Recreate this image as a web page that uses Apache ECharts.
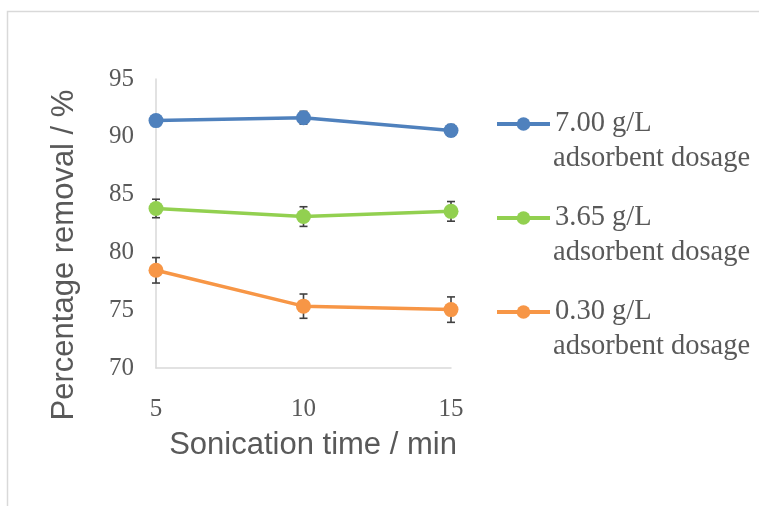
<!DOCTYPE html>
<html>
<head>
<meta charset="utf-8">
<script src="https://cdn.jsdelivr.net/npm/echarts@6/dist/echarts.min.js"></script>
<style>
  html, body { margin: 0; padding: 0; background: #fff; }
  #chart { width: 759px; height: 506px; }
</style>
</head>
<body>
<div id="chart"></div>
<script>
// Sonication time (min) on the x axis
const times = [5, 10, 15];

// Series labels (dosage) and the mean removal percentages with their error (±)
const seriesNames = ['7.00 g/L', '3.65 g/L', '0.30 g/L'];
const legendSubtitle = 'adsorbent dosage';
const removal700 = [91.4, 91.65, 90.55];
const error700 = [0.45, 0.55, 0.5];
const removal365 = [83.8, 83.1, 83.55];
const error365 = [0.8, 0.85, 0.85];
const removal030 = [78.45, 75.35, 75.05];
const error030 = [1.1, 1.05, 1.1];

const xTitle = 'Sonication time / min';
const yTitle = 'Percentage removal / %';

const colors = ['#4F81BD', '#92D050', '#F79646'];
const means = [removal700, removal365, removal030];
const errors = [error700, error365, error030];

const serifFont = '"Liberation Serif", "DejaVu Serif", serif';
const sansFont = '"Liberation Sans", Arial, sans-serif';
const textGray = '#595959';

// Vertical error bar with small caps, drawn in pixel space from data values
function renderErrorBar(params, api) {
  const x = api.value(0);
  const lo = api.coord([x, api.value(1)]);
  const hi = api.coord([x, api.value(2)]);
  const half = 4;
  const style = { stroke: '#404040', lineWidth: 1.6, fill: null };
  return {
    type: 'group',
    children: [
      { type: 'line', shape: { x1: lo[0], y1: lo[1], x2: hi[0], y2: hi[1] }, style },
      { type: 'line', shape: { x1: lo[0] - half, y1: lo[1], x2: lo[0] + half, y2: lo[1] }, style },
      { type: 'line', shape: { x1: hi[0] - half, y1: hi[1], x2: hi[0] + half, y2: hi[1] }, style }
    ]
  };
}

const series = [];
seriesNames.forEach((name, i) => {
  series.push({
    name: name + ' error',
    type: 'custom',
    renderItem: renderErrorBar,
    data: times.map((t, j) => [t, means[i][j] - errors[i][j], means[i][j] + errors[i][j]]),
    itemStyle: { color: '#404040' },
    z: 1,
    silent: true
  });
});
seriesNames.forEach((name, i) => {
  series.push({
    name: name,
    type: 'line',
    data: times.map((t, j) => [t, means[i][j]]),
    symbol: 'circle',
    symbolSize: 15,
    lineStyle: { color: colors[i], width: 3.5 },
    itemStyle: { color: colors[i] },
    z: 3
  });
});

// Legend layout: one entry per dosage, second caption line placed under each entry
const legendTop = 107;
const legendLineH = 34;
const legendStep = 94;
const legendTextX = 553;

const graphics = [
  {
    type: 'rect',
    shape: { x: 7.5, y: 11.5, width: 900, height: 700 },
    style: { fill: null, stroke: '#d9d9d9', lineWidth: 1.5 },
    silent: true
  },
  {
    type: 'text',
    x: 313, y: 445,
    style: { text: xTitle, font: '31px ' + sansFont, fill: textGray, align: 'center', verticalAlign: 'middle' },
    silent: true
  },
  {
    type: 'text',
    x: 64, y: 255,
    rotation: Math.PI / 2,
    style: { text: yTitle, font: '31px ' + sansFont, fill: textGray, align: 'center', verticalAlign: 'middle' },
    silent: true
  }
];
seriesNames.forEach((name, i) => {
  graphics.push({
    type: 'text',
    x: legendTextX,
    y: legendTop + legendLineH / 2 + i * legendStep + 35,
    style: { text: legendSubtitle, font: '28.5px ' + serifFont, fill: textGray, align: 'left', verticalAlign: 'middle' },
    silent: true
  });
});

const chart = echarts.init(document.getElementById('chart'));
chart.setOption({
  animation: false,
  backgroundColor: '#ffffff',
  graphic: graphics,
  grid: { left: 156, right: 308, top: 79, bottom: 138 },
  legend: {
    orient: 'vertical',
    left: 495,
    top: legendTop,
    padding: 0,
    itemWidth: 53,
    itemHeight: 17,
    itemGap: legendStep - legendLineH,
    data: seriesNames,
    lineStyle: { width: 4 },
    textStyle: {
      fontFamily: serifFont,
      fontSize: 28.5,
      lineHeight: legendLineH,
      color: textGray
    }
  },
  xAxis: {
    type: 'value',
    min: 5,
    max: 15,
    interval: 5,
    axisLine: { show: true, lineStyle: { color: '#d9d9d9', width: 1.5 } },
    axisTick: { show: false },
    splitLine: { show: false },
    axisLabel: { fontFamily: serifFont, fontSize: 25, color: textGray, margin: 29 }
  },
  yAxis: {
    type: 'value',
    min: 70,
    max: 95,
    interval: 5,
    axisLine: { show: true, lineStyle: { color: '#d9d9d9', width: 1.5 } },
    axisTick: { show: false },
    splitLine: { show: false },
    axisLabel: { fontFamily: serifFont, fontSize: 25, color: textGray, margin: 22 }
  },
  series: series
});
</script>
</body>
</html>
